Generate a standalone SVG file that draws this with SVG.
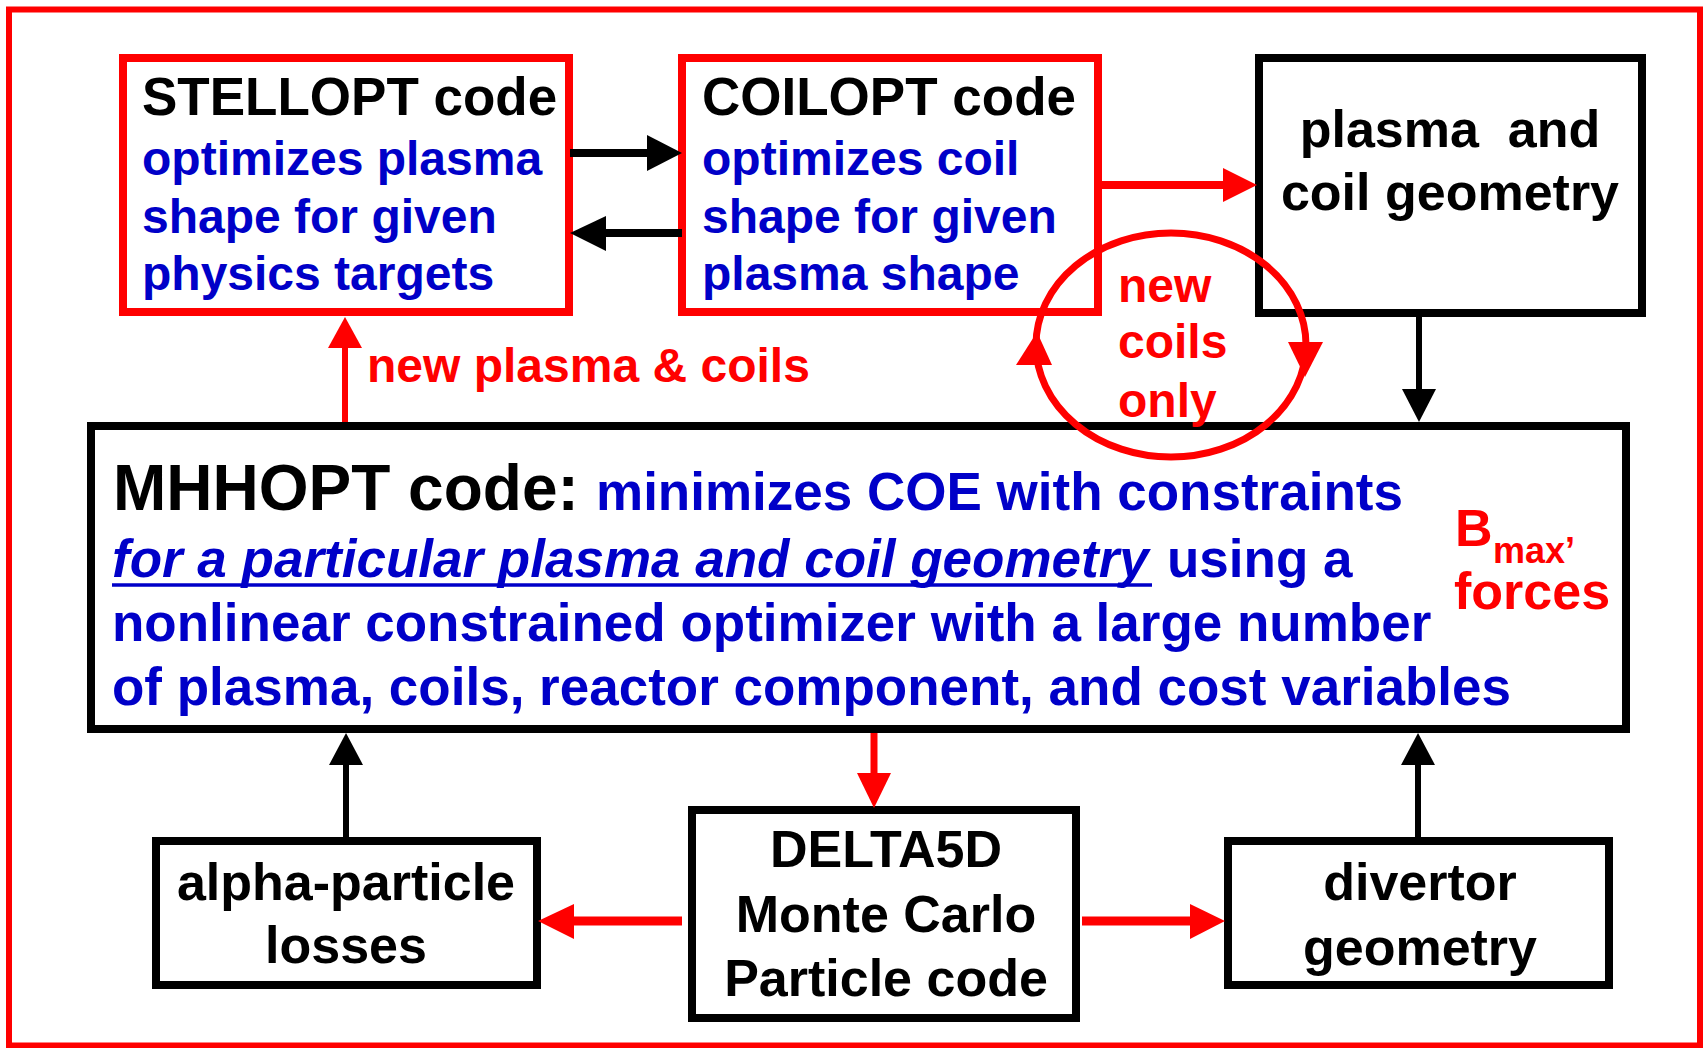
<svg xmlns="http://www.w3.org/2000/svg" width="1703" height="1048" viewBox="0 0 1703 1048">
<style>
text { font-family: "Liberation Sans", Arial, sans-serif; font-weight: bold; }
.t52 { font-size: 52px; fill: #000; }
.t53 { font-size: 53px; fill: #000; }
.b48 { font-size: 48px; fill: #0000c8; }
.b53 { font-size: 53px; fill: #0000c8; }
.r48 { font-size: 48px; fill: #ff0000; }
.r52 { font-size: 52px; fill: #ff0000; }
.mid { text-anchor: middle; }
.boxR { fill: #fff; stroke: #ff0000; stroke-width: 8; }
.boxK { fill: #fff; stroke: #000; stroke-width: 8; }
.lk { stroke: #000; fill: none; }
.lr { stroke: #ff0000; fill: none; }
.hk { fill: #000; }
.hr { fill: #ff0000; }
</style>
<rect x="0" y="0" width="1703" height="1048" fill="#fff"/>
<rect x="9" y="9.5" width="1691" height="1036" fill="none" stroke="#ff0000" stroke-width="6"/>

<g id="stellopt">
<rect class="boxR" x="123" y="58" width="446" height="254"/>
<text class="t53" x="142" y="115">STELLOPT code</text>
<text class="b48" x="142" y="175">optimizes plasma</text>
<text class="b48" x="142" y="233">shape for given</text>
<text class="b48" x="142" y="290">physics targets</text>
</g>

<g id="coilopt">
<rect class="boxR" x="682" y="58" width="416" height="254"/>
<text class="t53" x="702" y="115">COILOPT code</text>
<text class="b48" x="702" y="175">optimizes coil</text>
<text class="b48" x="702" y="233">shape for given</text>
<text class="b48" x="702" y="290">plasma shape</text>
</g>

<g id="geometry">
<rect class="boxK" x="1259" y="58" width="383" height="255"/>
<text class="t52 mid" x="1450" y="147" style="white-space:pre">plasma  and</text>
<text class="t52 mid" x="1450" y="210">coil geometry</text>
</g>

<g id="mhhopt">
<rect class="boxK" x="91" y="426" width="1535" height="303"/>
<text x="113" y="510" style="font-size:64px;fill:#000">MHHOPT code:</text>
<text class="b53" x="596" y="510">minimizes COE with constraints</text>
<text class="b53" x="112" y="577" style="font-style:italic">for a particular plasma and coil geometry</text>
<line x1="112" y1="585" x2="1152" y2="585" stroke="#0000c8" stroke-width="3.5"/>
<text class="b53" x="1167" y="577">using a</text>
<text class="b53" x="112" y="641">nonlinear constrained optimizer with a large number</text>
<text class="b53" x="112" y="705">of plasma, coils, reactor component, and cost variables</text>
<text class="r52"><tspan x="1455" y="546">B</tspan><tspan x="1493" y="563" style="font-size:36px">max’</tspan><tspan x="1454" y="609">forces</tspan></text>
</g>

<g id="alpha">
<rect class="boxK" x="156" y="841" width="381" height="144"/>
<text class="t52 mid" x="346" y="900">alpha-particle</text>
<text class="t52 mid" x="346" y="963">losses</text>
</g>

<g id="delta5d">
<rect class="boxK" x="692" y="810" width="384" height="208"/>
<text class="t52 mid" x="886" y="867">DELTA5D</text>
<text class="t52 mid" x="886" y="932">Monte Carlo</text>
<text class="t52 mid" x="886" y="996">Particle code</text>
</g>

<g id="divertor">
<rect class="boxK" x="1228" y="841" width="381" height="144"/>
<text class="t52 mid" x="1420" y="900">divertor</text>
<text class="t52 mid" x="1420" y="965">geometry</text>
</g>

<g id="connectors">
<line class="lk" x1="570" y1="153" x2="650" y2="153" stroke-width="8"/>
<polygon class="hk" points="647,135 682,153 647,171"/>
<line class="lk" x1="682" y1="233" x2="603" y2="233" stroke-width="8"/>
<polygon class="hk" points="606,216 570,233 606,251"/>
<line class="lr" x1="1102" y1="185" x2="1226" y2="185" stroke-width="8"/>
<polygon class="hr" points="1223,168 1257,185 1223,202"/>
<line class="lk" x1="1419" y1="317" x2="1419" y2="392" stroke-width="6"/>
<polygon class="hk" points="1402,389 1419,422 1436,389"/>
<line class="lr" x1="345" y1="422" x2="345" y2="345" stroke-width="6"/>
<polygon class="hr" points="328,348 345,317 362,348"/>
<line class="lk" x1="346" y1="837" x2="346" y2="762" stroke-width="6"/>
<polygon class="hk" points="329,765 346,733 363,765"/>
<line class="lk" x1="1418" y1="837" x2="1418" y2="762" stroke-width="6"/>
<polygon class="hk" points="1401,765 1418,733 1435,765"/>
<line class="lr" x1="874" y1="733" x2="874" y2="776" stroke-width="7"/>
<polygon class="hr" points="857,773 874,808 891,773"/>
<line class="lr" x1="682" y1="921" x2="571" y2="921" stroke-width="9"/>
<polygon class="hr" points="574,904 538,921 574,939"/>
<line class="lr" x1="1082" y1="921" x2="1193" y2="921" stroke-width="9"/>
<polygon class="hr" points="1190,904 1225,921 1190,939"/>
<ellipse class="lr" cx="1171" cy="345" rx="135" ry="112" stroke-width="7"/>
<polygon class="hr" points="1037,332 1016,365 1052,365"/>
<polygon class="hr" points="1288,342 1323,342 1305,377"/>
</g>

<g id="loop-label">
<text class="r48" x="1118" y="302">new</text>
<text class="r48" x="1118" y="358">coils</text>
<text class="r48" x="1118" y="417">only</text>
</g>
<text class="r48" x="367" y="382">new plasma &amp; coils</text>
</svg>
